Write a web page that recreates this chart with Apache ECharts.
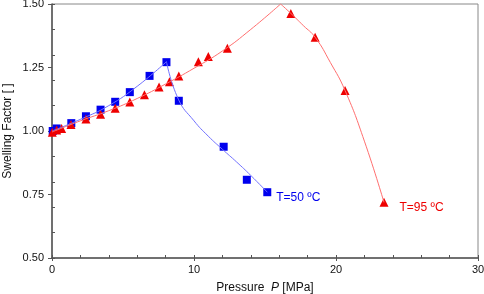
<!DOCTYPE html>
<html lang="en">
<head>
    <meta charset="utf-8">
    <title>Swelling factor</title>
    <script type="text/javascript" src="https://cdn.jsdelivr.net/npm/echarts@6/dist/echarts.min.js"></script>
    <style>
        html, body { margin: 0; padding: 0; background: #fff; }
    </style>
</head>
<body>
<div id="main" style="width: 484px;height:294px;"></div>
<script>
    // measured points, T=50 C
    var p50 = [0.05, 0.33, 1.36, 2.39, 3.42, 4.45, 5.48, 6.87, 8.06, 8.93, 12.09, 13.72, 15.16];
    var sf50 = [1.000, 1.010, 1.031, 1.058, 1.084, 1.115, 1.153, 1.217, 1.271, 1.119, 0.938, 0.808, 0.759];
    // measured points, T=95 C
    var p95 = [0.02, 0.33, 0.68, 1.34, 2.39, 3.42, 4.45, 5.48, 6.51, 7.54, 8.27, 8.93, 10.31, 11.01, 12.35, 16.82, 18.53, 20.64, 23.38];
    var sf95 = [0.995, 1.004, 1.010, 1.026, 1.047, 1.066, 1.090, 1.114, 1.143, 1.173, 1.194, 1.217, 1.273, 1.293, 1.326, 1.463, 1.369, 1.159, 0.719];

    // fitted curves (rising and falling branch)
    var fit50upP = [0, 2, 4, 6, 8.06];
    var fit50up = [1.000, 1.046, 1.100, 1.176, 1.273];
    var fit50downP = [8.06, 8.9, 10, 11, 12, 13, 14, 15.16];
    var fit50down = [1.273, 1.125, 1.040, 0.980, 0.928, 0.878, 0.825, 0.759];
    var fit95upP = [0, 2, 4, 6, 8, 10, 12, 14, 16.1];
    var fit95up = [0.996, 1.040, 1.080, 1.128, 1.185, 1.247, 1.315, 1.400, 1.500];
    var fit95downP = [16.1, 16.82, 17.7, 18.53, 19.6, 20.64, 22, 23.38];
    var fit95down = [1.500, 1.463, 1.415, 1.369, 1.270, 1.159, 0.960, 0.719];

    var xTicks = [0, 10, 20, 30];
    var yTicks = [0.50, 0.75, 1.00, 1.25, 1.50];

    function pairs(xs, ys) {
        var out = [];
        for (var i = 0; i < xs.length; i++) {
            out.push([xs[i], ys[i]]);
        }
        return out;
    }

    var blue = '#0000ee';
    var red = '#ee0000';
    var fontName = 'Liberation Sans, Arial, sans-serif';

    var pts50 = pairs(p50, sf50);
    pts50[pts50.length - 1] = {
        value: pts50[pts50.length - 1],
        label: {show: true, position: 'right', offset: [0, 5], formatter: 'T=50 ºC', color: blue, fontSize: 12, fontFamily: fontName}
    };
    var pts95 = pairs(p95, sf95);
    pts95[pts95.length - 1] = {
        value: pts95[pts95.length - 1],
        label: {show: true, position: 'right', offset: [6, 5], formatter: 'T=95 ºC', color: red, fontSize: 12, fontFamily: fontName}
    };

    var myChart = echarts.init(document.getElementById('main'));
    var option = {
        animation: false,
        textStyle: {fontFamily: fontName},
        grid: {
            left: 52, right: 6, top: 4, bottom: 36,
            containLabel: false, outerBoundsMode: 'none',
            show: true, borderColor: '#888', borderWidth: 1
        },
        xAxis: [{
            type: 'value', min: xTicks[0], max: xTicks[xTicks.length - 1], interval: 10,
            name: 'Pressure  {i|P} [MPa]', nameLocation: 'middle', nameGap: 24,
            nameTextStyle: {fontSize: 12, color: '#111', rich: {i: {fontStyle: 'italic', fontSize: 12, color: '#111'}}},
            axisLine: {lineStyle: {color: '#555', width: 1.5}},
            axisTick: {inside: false, length: 3, lineStyle: {color: '#555'}},
            axisLabel: {fontSize: 11, color: '#111', margin: 6},
            splitLine: {show: false}
        }, {
            type: 'value', position: 'bottom', min: 0, max: 30, interval: 2,
            axisLine: {show: false},
            axisTick: {inside: true, length: 3, lineStyle: {color: '#555'}},
            axisLabel: {show: false},
            splitLine: {show: false}
        }],
        yAxis: [{
            type: 'value', min: yTicks[0], max: yTicks[yTicks.length - 1], interval: 0.25,
            name: 'Swelling Factor [ ]', nameLocation: 'middle', nameGap: 38, nameMoveOverlap: false,
            nameTextStyle: {fontSize: 12, color: '#111'},
            axisLine: {show: true, lineStyle: {color: '#555', width: 1.5}},
            axisTick: {show: true, inside: false, length: 4, lineStyle: {color: '#555'}},
            axisLabel: {fontSize: 11, color: '#111', margin: 8, formatter: function (v) { return v.toFixed(2); }},
            splitLine: {show: false}
        }, {
            type: 'value', position: 'left', min: 0.5, max: 1.5, interval: 0.1,
            axisLine: {show: false},
            axisTick: {show: true, inside: true, length: 3, lineStyle: {color: '#555'}},
            axisLabel: {show: false},
            splitLine: {show: false}
        }],
        series: [
            {type: 'line', data: pairs(fit50upP, fit50up), smooth: true, symbol: 'none', lineStyle: {color: '#7070ff', width: 1}},
            {type: 'line', data: pairs(fit50downP, fit50down), smooth: true, symbol: 'none', lineStyle: {color: '#7070ff', width: 1}},
            {type: 'line', data: pairs(fit95upP, fit95up), smooth: true, symbol: 'none', lineStyle: {color: '#ff6f6f', width: 1}},
            {type: 'line', data: pairs(fit95downP, fit95down), smooth: true, symbol: 'none', lineStyle: {color: '#ff6f6f', width: 1}},
            {type: 'scatter', data: pts50, symbol: 'rect', symbolSize: 8, itemStyle: {color: blue, opacity: 1}},
            {type: 'scatter', data: pts95, symbol: 'triangle', symbolSize: 9, itemStyle: {color: red, opacity: 1}}
        ]
    };
    myChart.setOption(option);
</script>
</body>
</html>
